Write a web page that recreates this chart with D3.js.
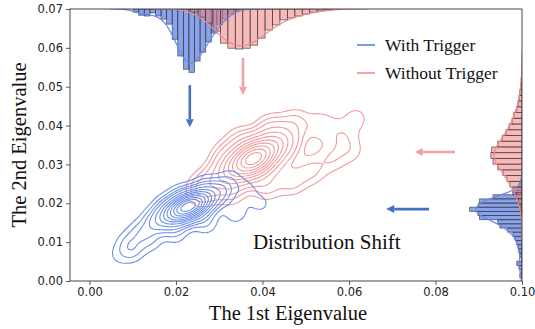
<!DOCTYPE html>
<html>
<head>
<meta charset="utf-8">
<script src="https://cdn.jsdelivr.net/npm/d3@7"></script>
<style>
  body { margin: 0; background: #fff; }
  svg { display: block; }
</style>
</head>
<body>
<svg id="chart" width="535" height="329"></svg>
<script>
// axis ticks
const xTicks = [0, 0.02, 0.04, 0.06, 0.08, 0.10];
const yTicks = [0, 0.01, 0.02, 0.03, 0.04, 0.05, 0.06, 0.07];
const seriesNames = ["With Trigger", "Without Trigger"];

// top marginal histogram of the 1st eigenvalue (bar depth in y units)
const topBlueStart = 0.0101, topBlueBin = 0.00129;
const topBlue = [0.0008, 0.0016, 0.0018, 0.0010, 0.0018, 0.0026, 0.0039, 0.0078, 0.0121, 0.0155,
                 0.0163, 0.0134, 0.0111, 0.0085, 0.0062, 0.0041, 0.0026, 0.0013, 0.0005];
const topRedStart = 0.0234, topRedBin = 0.00172;
const topRed = [0.0008, 0.0021, 0.0036, 0.0057, 0.0088, 0.0101, 0.0103, 0.0101, 0.0093, 0.0075,
                0.0054, 0.0041, 0.0028, 0.0023, 0.0018, 0.0013, 0.0008, 0.0005, 0.0003];

// right marginal histogram of the 2nd eigenvalue (bar length in x units)
const rightBlueStart = 0.0008, rightBlueBin = 0.00107;
const rightBlue = [0.0005, 0.0002, 0.0007, 0.0012, 0.0002, 0.0005, 0.0007, 0.0009, 0.0012, 0.0016,
                   0.0021, 0.0033, 0.0051, 0.0056, 0.0098, 0.0102, 0.0121, 0.0100, 0.0098, 0.0067,
                   0.0021, 0.0012, 0.0005, 0.0002];
const rightRedStart = 0.0168, rightRedBin = 0.001475;
const rightRed = [0.0002, 0.0005, 0.0009, 0.0014, 0.0021, 0.0028, 0.0035, 0.0044, 0.0056, 0.0067,
                  0.0072, 0.0070, 0.0056, 0.0046, 0.0037, 0.0030, 0.0023, 0.0019, 0.0012, 0.0009,
                  0.0007, 0.0005, 0.0003, 0.0002];

// weighted samples for the joint density: [1st eig, 2nd eig, weight]
const blueSamples = [
  [0.0229, 0.0191, 6], [0.0246, 0.0200, 5], [0.0212, 0.0182, 5], [0.0263, 0.0209, 3.5],
  [0.0195, 0.0174, 3.5], [0.0284, 0.0220, 2], [0.0174, 0.0163, 2.5], [0.0309, 0.0233, 1.5],
  [0.0149, 0.0150, 1.5], [0.0118, 0.0124, 1], [0.0090, 0.0098, 0.7], [0.0099, 0.0078, 0.8],
  [0.0066, 0.0065, 0.4], [0.0141, 0.0103, 0.6], [0.0199, 0.0124, 0.7], [0.0269, 0.0150, 0.8],
  [0.0338, 0.0176, 0.7], [0.0396, 0.0199, 0.5], [0.0361, 0.0233, 0.6], [0.0327, 0.0264, 0.5],
  [0.0269, 0.0245, 0.6], [0.0210, 0.0220, 0.6], [0.0176, 0.0194, 0.6]
];
const redSamples = [
  [0.0380, 0.0315, 5], [0.0400, 0.0328, 4], [0.0360, 0.0302, 4], [0.0424, 0.0344, 2.5],
  [0.0336, 0.0287, 2.5], [0.0452, 0.0362, 1.5], [0.0308, 0.0269, 1.5], [0.0269, 0.0245, 0.8],
  [0.0257, 0.0227, 0.5], [0.0327, 0.0227, 0.5], [0.0408, 0.0245, 0.7], [0.0466, 0.0258, 0.7],
  [0.0512, 0.0284, 0.6], [0.0559, 0.0315, 0.5], [0.0605, 0.0336, 0.4], [0.0582, 0.0375, 0.4],
  [0.0536, 0.0401, 0.5], [0.0617, 0.0419, 0.4], [0.0477, 0.0408, 0.6], [0.0419, 0.0393, 0.7],
  [0.0350, 0.0362, 0.6], [0.0315, 0.0323, 0.6]
];

const svg = d3.select("#chart");
const plotL = 70, plotR = 522, plotT = 9, plotB = 281;

const x = d3.scaleLinear().domain([-0.0045, 0.1]).range([plotL, plotR]);
const y = d3.scaleLinear().domain([0, 0.07]).range([plotB, plotT]);

svg.append("defs").append("clipPath").attr("id", "plot")
  .append("rect").attr("x", plotL).attr("y", plotT)
  .attr("width", plotR - plotL).attr("height", plotB - plotT);

const plot = svg.append("g").attr("clip-path", "url(#plot)");

// joint density on a pixel grid, then contour lines at iso-proportion levels
const cell = 2;
const nx = Math.ceil((plotR - plotL) / cell), ny = Math.ceil((plotB - plotT) / cell);

function densityGrid(samples, h) {
  const v = new Float64Array(nx * ny);
  samples.forEach(([a, b, w]) => {
    const cx = x(a), cy = y(b);
    for (let j = 0; j < ny; j++) {
      const dy = plotT + (j + 0.5) * cell - cy;
      for (let i = 0; i < nx; i++) {
        const dx = plotL + (i + 0.5) * cell - cx;
        v[j * nx + i] += w * Math.exp(-(dx * dx + dy * dy) / (2 * h * h));
      }
    }
  });
  return v;
}

function isoLevels(v, props) {
  const sorted = Array.from(v).sort((a, b) => b - a);
  const total = d3.sum(sorted);
  const cum = d3.cumsum(sorted);
  return props.map(p => sorted[d3.bisectLeft(cum, (1 - p) * total)]).sort((a, b) => a - b);
}

const gridPath = d3.geoPath(d3.geoIdentity().scale(cell).translate([plotL, plotT]));

function drawContours(samples, h, nLines, step, color) {
  const v = densityGrid(samples, h);
  const props = d3.range(nLines).map(i => 0.05 + i * step);
  const contours = d3.contours().size([nx, ny]).thresholds(isoLevels(v, props))(v);
  plot.append("g").selectAll("path").data(contours).join("path")
    .attr("d", gridPath)
    .attr("fill", "none")
    .attr("stroke", color)
    .attr("stroke-width", 1.1);
}

drawContours(redSamples, 10.5, 11, 0.088, "#f29c9c");
drawContours(blueSamples, 8.5, 12, 0.08, "#6d8fe8");

// 1d kde of a histogram, keeps the histogram area
function kde(start, bin, vals, bw) {
  return t => d3.sum(vals, (d, i) => {
    const z = (t - (start + (i + 0.5) * bin)) / bw;
    return d * bin * Math.exp(-0.5 * z * z) / (bw * Math.sqrt(2 * Math.PI));
  });
}

function kdeRange(start, bin, vals, bw) {
  const lo = start - 3 * bw, hi = start + vals.length * bin + 3 * bw;
  return d3.range(0, 201).map(k => lo + (hi - lo) * k / 200);
}

const yMax = 0.07, xMax = 0.1;

function topHist(start, bin, vals, fill) {
  plot.append("g").selectAll("rect").data(vals).join("rect")
    .attr("x", (d, i) => x(start + i * bin))
    .attr("width", (d, i) => x(start + (i + 1) * bin) - x(start + i * bin))
    .attr("y", y(yMax))
    .attr("height", d => y(yMax - d) - y(yMax))
    .attr("fill", fill)
    .attr("stroke", "#333")
    .attr("stroke-opacity", 0.75)
    .attr("stroke-width", 0.8);
}

function topKde(start, bin, vals, bw, color) {
  const f = kde(start, bin, vals, bw);
  plot.append("path")
    .datum(kdeRange(start, bin, vals, bw))
    .attr("d", d3.line().x(t => x(t)).y(t => y(yMax - f(t))))
    .attr("fill", "none").attr("stroke", color).attr("stroke-width", 1.2);
}

function rightHist(start, bin, vals, fill) {
  plot.append("g").selectAll("rect").data(vals).join("rect")
    .attr("x", d => x(xMax - d))
    .attr("width", d => x(xMax) - x(xMax - d))
    .attr("y", (d, i) => y(start + (i + 1) * bin))
    .attr("height", (d, i) => y(start + i * bin) - y(start + (i + 1) * bin))
    .attr("fill", fill)
    .attr("stroke", "#333")
    .attr("stroke-opacity", 0.75)
    .attr("stroke-width", 0.8);
}

function rightKde(start, bin, vals, bw, color) {
  const f = kde(start, bin, vals, bw);
  plot.append("path")
    .datum(kdeRange(start, bin, vals, bw))
    .attr("d", d3.line().x(t => x(xMax - f(t))).y(t => y(t)))
    .attr("fill", "none").attr("stroke", color).attr("stroke-width", 1.2);
}

const blueFill = "rgba(65,105,225,0.62)", redFill = "rgba(240,128,128,0.55)";
const blueLine = "#6688e6", redLine = "#f08a8a";

topHist(topBlueStart, topBlueBin, topBlue, blueFill);
topHist(topRedStart, topRedBin, topRed, redFill);
topKde(topBlueStart, topBlueBin, topBlue, 0.0018, blueLine);
topKde(topRedStart, topRedBin, topRed, 0.0028, redLine);

rightHist(rightBlueStart, rightBlueBin, rightBlue, blueFill);
rightHist(rightRedStart, rightRedBin, rightRed, redFill);
rightKde(rightBlueStart, rightBlueBin, rightBlue, 0.0012, blueLine);
rightKde(rightRedStart, rightRedBin, rightRed, 0.0022, redLine);

// shift arrows
function arrow(x1, y1, x2, y2, color) {
  const px1 = x(x1), py1 = y(y1), px2 = x(x2), py2 = y(y2);
  const ang = Math.atan2(py2 - py1, px2 - px1);
  const len = 8, half = 4;
  const bx = px2 - len * Math.cos(ang), by = py2 - len * Math.sin(ang);
  svg.append("line")
    .attr("x1", px1).attr("y1", py1).attr("x2", bx).attr("y2", by)
    .attr("stroke", color).attr("stroke-width", 2.6);
  svg.append("path")
    .attr("d", `M${px2},${py2}L${bx - half * Math.sin(ang)},${by + half * Math.cos(ang)}L${bx + half * Math.sin(ang)},${by - half * Math.cos(ang)}Z`)
    .attr("fill", color);
}
arrow(0.0232, 0.0504, 0.0232, 0.0396, "#4472c4");
arrow(0.0355, 0.0574, 0.0355, 0.0479, "#f4a0a0");
arrow(0.0845, 0.0332, 0.0752, 0.0332, "#f4a0a0");
arrow(0.0785, 0.0185, 0.0686, 0.0185, "#4472c4");

svg.append("text")
  .attr("x", x(0.0378)).attr("y", y(0.0082))
  .attr("font-family", "Liberation Serif, Times New Roman, serif")
  .attr("font-size", 21).attr("fill", "#111")
  .text("Distribution Shift");

// legend
const legend = svg.append("g").attr("font-family", "Liberation Serif, Times New Roman, serif")
  .attr("font-size", 17.5).attr("fill", "#111");
[["#7b9be8", 45], ["#f4a4a4", 73]].forEach(([c, ly], i) => {
  legend.append("line").attr("x1", 357).attr("x2", 375).attr("y1", ly).attr("y2", ly)
    .attr("stroke", c).attr("stroke-width", 2);
  legend.append("text").attr("x", 385).attr("y", ly + 6).text(seriesNames[i]);
});

// axes
const fmt = d3.format(".2f");
const gx = svg.append("g").attr("transform", `translate(0,${plotB})`)
  .call(d3.axisBottom(x).tickValues(xTicks).tickFormat(fmt).tickSizeOuter(0).tickSize(4).tickPadding(3));
const gy = svg.append("g").attr("transform", `translate(${plotL},0)`)
  .call(d3.axisLeft(y).tickValues(yTicks).tickFormat(fmt).tickSizeOuter(0).tickSize(4).tickPadding(3));
[gx, gy].forEach(g => {
  g.select(".domain").remove();
  g.selectAll("line").attr("stroke", "#333").attr("stroke-width", 0.8);
  g.selectAll("text").attr("font-family", "DejaVu Sans, sans-serif")
    .attr("font-size", 11.5).attr("fill", "#222");
});

svg.append("rect")
  .attr("x", plotL).attr("y", plotT).attr("width", plotR - plotL).attr("height", plotB - plotT)
  .attr("fill", "none").attr("stroke", "#333").attr("stroke-width", 0.9);

svg.append("text")
  .attr("x", 288).attr("y", 320)
  .attr("text-anchor", "middle")
  .attr("font-family", "Liberation Serif, Times New Roman, serif")
  .attr("font-size", 20.5).attr("fill", "#111")
  .text("The 1st Eigenvalue");

svg.append("text")
  .attr("transform", `translate(26,${(plotT + plotB) / 2}) rotate(-90)`)
  .attr("text-anchor", "middle")
  .attr("font-family", "Liberation Serif, Times New Roman, serif")
  .attr("font-size", 20.5).attr("fill", "#111")
  .text("The 2nd Eigenvalue");
</script>
</body>
</html>
